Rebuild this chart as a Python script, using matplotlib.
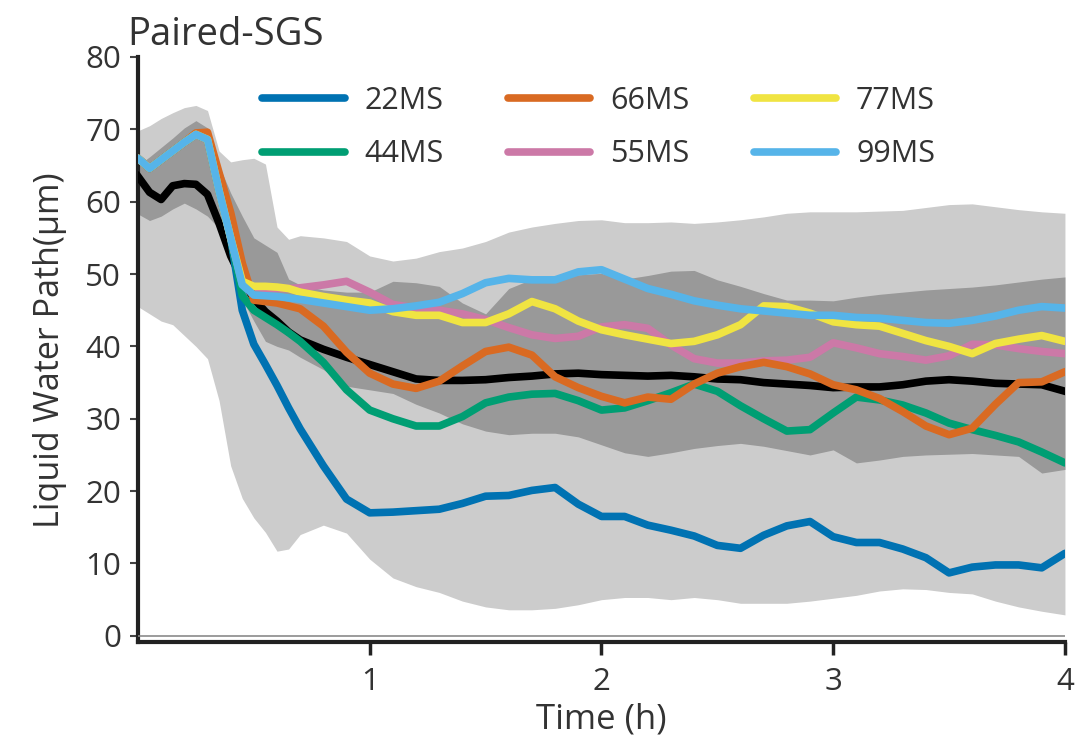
import matplotlib
matplotlib.use("Agg")
import matplotlib.pyplot as plt

plt.rcParams['font.family'] = ['Open Sans', 'DejaVu Sans']

# time grid (h)
T = [0.0, 0.05, 0.1, 0.15, 0.2, 0.25, 0.3, 0.35, 0.4, 0.45, 0.5, 0.55, 0.6, 0.65, 0.7,
     0.8, 0.9, 1.0, 1.1, 1.2, 1.3, 1.4, 1.5, 1.6, 1.7, 1.8, 1.9, 2.0,
     2.1, 2.2, 2.3, 2.4, 2.5, 2.6, 2.7, 2.8, 2.9, 3.0,
     3.1, 3.2, 3.3, 3.4, 3.5, 3.6, 3.7, 3.8, 3.9, 4.0]

# shared start of the six members
START = [66.0, 64.6, 65.8, 67.0, 68.2, 69.3, 68.6, 61.5, 55.0]

MS22 = START + [45.0, 40.3, 37.5, 34.6, 31.5, 28.6,
                23.5, 18.9, 17.0, 17.1, 17.3, 17.5, 18.3, 19.3, 19.4, 20.1, 20.5, 18.2, 16.5,
                16.5, 15.3, 14.6, 13.8, 12.5, 12.1, 13.9, 15.2, 15.8, 13.7,
                12.9, 12.9, 12.0, 10.8, 8.7, 9.5, 9.8, 9.8, 9.4, 11.4]
MS44 = START + [47.0, 45.0, 44.0, 43.0, 41.9, 40.7,
                37.8, 34.0, 31.2, 30.0, 29.0, 29.0, 30.3, 32.2, 33.0, 33.4, 33.5, 32.5, 31.2,
                31.5, 32.5, 33.6, 34.8, 33.8, 31.8, 30.0, 28.3, 28.5, 30.8,
                33.0, 32.6, 31.9, 30.8, 29.4, 28.5, 27.7, 26.8, 25.4, 23.9]
MS55 = START + [48.7, 48.2, 48.0, 48.0, 48.0, 48.1,
                48.5, 49.0, 47.5, 45.8, 45.3, 45.0, 44.5, 43.7, 42.6, 41.6, 41.1, 41.4, 42.7,
                43.0, 42.5, 40.2, 38.3, 37.7, 37.7, 38.0, 38.1, 38.5, 40.5,
                39.8, 39.0, 38.6, 38.1, 38.7, 40.3, 40.2, 39.7, 39.3, 39.0]
MS66 = [66.0, 64.6, 65.8, 67.0, 68.2, 69.5, 69.6, 64.0, 58.5,
        51.5, 46.4, 46.2, 46.0, 45.6, 45.2,
        42.8, 39.2, 36.3, 34.8, 34.2, 35.2, 37.3, 39.3, 39.9, 38.8, 35.8, 34.3, 33.1,
        32.2, 33.0, 32.7, 34.8, 36.3, 37.2, 37.8, 37.2, 36.2, 34.7,
        34.0, 32.8, 31.0, 29.0, 27.8, 28.7, 32.0, 35.0, 35.1, 36.5]
MS77 = START + [49.0, 48.3, 48.3, 48.2, 48.0, 47.5,
                46.9, 46.4, 46.0, 44.8, 44.3, 44.3, 43.3, 43.3, 44.5, 46.2, 45.2, 43.5, 42.3,
                41.6, 41.0, 40.4, 40.7, 41.6, 43.0, 45.6, 45.5, 44.6, 43.4,
                43.0, 42.8, 41.8, 40.8, 40.0, 39.0, 40.4, 41.0, 41.5, 40.7]
MS99 = START + [48.5, 47.1, 47.0, 46.9, 46.7, 46.5,
                46.0, 45.5, 45.0, 45.2, 45.6, 46.1, 47.3, 48.8, 49.4, 49.2, 49.2, 50.3, 50.6,
                49.3, 48.0, 47.2, 46.3, 45.7, 45.2, 44.9, 44.6, 44.3, 44.3,
                44.0, 43.9, 43.6, 43.3, 43.2, 43.6, 44.2, 45.0, 45.5, 45.3]

# ensemble mean and spread
MEAN = [63.5, 61.3, 60.3, 62.2, 62.5, 62.4, 61.0, 57.0, 52.5, 49.2, 46.6, 44.8, 43.5, 42.0, 40.9,
        39.6, 38.5, 37.5, 36.5, 35.5, 35.3, 35.3, 35.4, 35.7, 35.9, 36.2, 36.3, 36.1,
        36.0, 35.9, 36.0, 35.8, 35.5, 35.4, 35.0, 34.8, 34.6, 34.3,
        34.4, 34.4, 34.7, 35.2, 35.4, 35.2, 34.9, 34.8, 34.7, 33.8]
OUTER_HI = [69.8, 70.5, 71.5, 72.3, 73.0, 73.3, 72.6, 67.0, 65.5, 65.8, 66.0, 65.2, 56.5, 54.8, 55.3,
            55.0, 54.5, 52.5, 51.8, 52.2, 53.1, 53.6, 54.5, 55.8, 56.5, 57.0, 57.4, 57.5,
            57.1, 57.1, 57.2, 57.0, 57.2, 57.5, 57.9, 58.4, 58.6, 58.6,
            58.6, 58.7, 58.8, 59.2, 59.6, 59.7, 59.3, 58.9, 58.6, 58.4]
OUTER_LO = [45.5, 44.5, 43.5, 43.0, 41.5, 40.0, 38.3, 32.5, 23.5, 19.0, 16.3, 14.3, 11.7, 12.0, 14.0,
            15.3, 14.2, 10.6, 8.0, 6.8, 6.0, 4.8, 4.0, 3.6, 3.6, 3.8, 4.3, 5.0,
            5.3, 5.3, 5.0, 5.3, 5.0, 4.5, 4.5, 4.5, 4.8, 5.2,
            5.6, 6.2, 6.5, 6.4, 6.0, 5.8, 4.8, 4.0, 3.4, 2.9]
INNER_HI = [65.0, 66.2, 67.5, 68.8, 70.2, 71.2, 70.2, 65.0, 61.2, 58.0, 55.0, 54.0, 53.0, 49.3, 48.5,
            47.8, 47.5, 47.5, 49.0, 48.8, 48.3, 46.0, 44.5, 48.0, 49.3, 49.6, 49.9, 50.1,
            49.3, 49.8, 50.4, 50.5, 49.2, 48.3, 47.3, 46.4, 46.4, 46.3,
            46.8, 47.2, 47.5, 47.8, 48.0, 48.2, 48.5, 48.9, 49.3, 49.6]
INNER_LO = [58.3, 57.4, 58.0, 59.0, 59.8, 59.0, 58.0, 56.3, 52.0, 46.5, 43.5, 40.7, 40.0, 39.5, 38.5,
            36.8, 34.5, 34.0, 33.5, 32.0, 30.8, 29.3, 28.3, 27.8, 28.0, 28.0, 27.5, 26.4,
            25.3, 24.8, 25.3, 25.9, 26.3, 26.6, 26.2, 25.6, 25.0, 25.7,
            23.9, 24.3, 24.8, 25.0, 25.1, 25.2, 25.0, 24.8, 22.5, 23.0]

SERIES = [
    ('22MS', MS22, '#0072B2'),
    ('44MS', MS44, '#009E73'),
    ('55MS', MS55, '#CC79A7'),
    ('66MS', MS66, '#D96A22'),
    ('77MS', MS77, '#F0E442'),
    ('99MS', MS99, '#56B4E9'),
]
LEGEND_ORDER = ['22MS', '44MS', '66MS', '55MS', '77MS', '99MS']

TEXT = '#333333'

fig = plt.figure(figsize=(10.89, 7.37), dpi=100)
ax = fig.add_axes([0.1267, 0.1289, 0.8512, 0.7938])

ax.fill_between(T, OUTER_LO, OUTER_HI, color='#cccccc', lw=0, zorder=1)
ax.fill_between(T, INNER_LO, INNER_HI, color='#999999', lw=0, zorder=2)
ax.axhline(0, color='#8a8a8a', lw=1.2, zorder=3)
ax.plot(T, MEAN, color='black', lw=5.5, zorder=4)

handles = {}
for name, vals, col in SERIES:
    line, = ax.plot(T, vals, color=col, lw=5.5, zorder=5, label=name,
                    solid_capstyle='round', solid_joinstyle='round')
    handles[name] = line

ax.legend([handles[n] for n in LEGEND_ORDER], LEGEND_ORDER, ncol=3,
          loc='upper left', bbox_to_anchor=(0.134, 0.951), frameon=False,
          fontsize=22, handlelength=2.7, handletextpad=0.65, columnspacing=2.1,
          labelspacing=0.78, borderpad=0, borderaxespad=0,
          labelcolor=TEXT)

ax.set_xlim(0, 4)
ax.set_ylim(-0.85, 80)
ax.set_xticks([1, 2, 3, 4])
ax.set_yticks(range(0, 81, 10))

for s in ['top', 'right']:
    ax.spines[s].set_visible(False)
for s in ['left', 'bottom']:
    ax.spines[s].set_linewidth(3)
    ax.spines[s].set_color('#222222')

ax.tick_params(axis='y', direction='out', length=6, width=1.5, pad=6,
               labelsize=22.5, color='#444444', labelcolor=TEXT)
ax.tick_params(axis='x', direction='out', length=9, width=2.5, pad=9,
               labelsize=22.5, color='#222222', labelcolor=TEXT)

fig.text(127 / 1089, 1 - 45 / 737, 'Paired-SGS', ha='left', va='baseline',
         fontsize=27.5, color=TEXT)
fig.text(50 / 1089, 1 - 350 / 737, 'Liquid Water Path(μm)', rotation=90,
         ha='center', va='center', fontsize=24.5, color=TEXT)
fig.text(601 / 1089, 1 - 719 / 737, 'Time (h)', ha='center', va='center',
         fontsize=25, color=TEXT)

fig.savefig('out.png', dpi=100)
